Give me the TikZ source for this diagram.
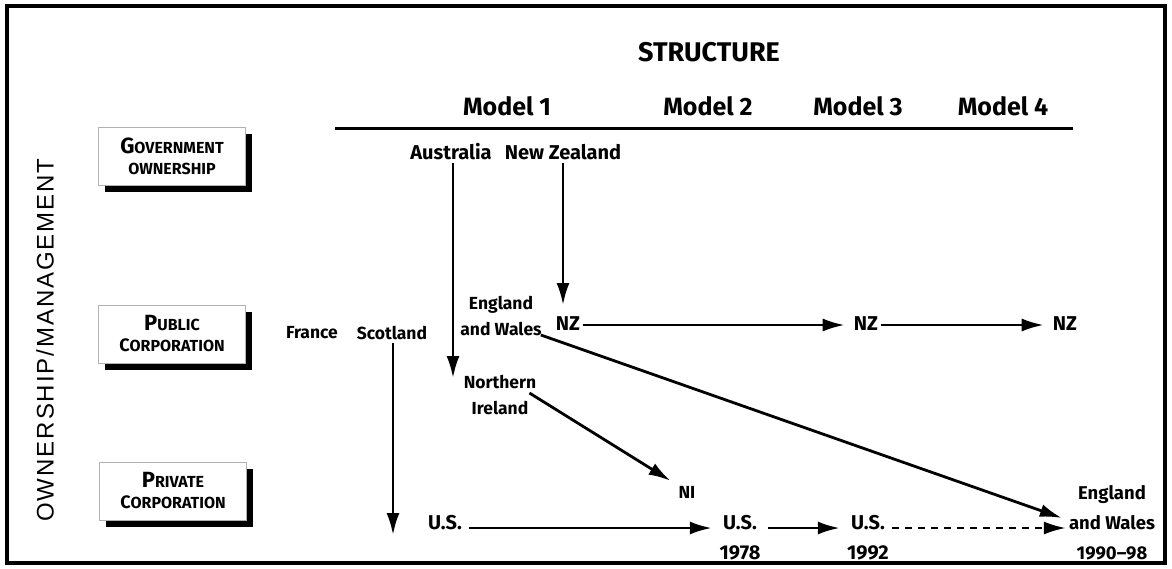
\documentclass[tikz,border=0pt]{standalone}
\usepackage{fontspec}
\setmainfont{Fira Sans}
\newfontfamily\axisfont[LetterSpace=8]{Liberation Sans}
\usetikzlibrary{arrows.meta,shadows}
\newcommand{\fsz}[1]{\fontsize{#1}{#1}\selectfont}
\newcommand{\bsz}[1]{\fontsize{#1}{21}\selectfont}
\begin{document}
\begin{tikzpicture}[x=1pt,y=-1pt,
  lbl/.style={inner sep=3pt, font=\bfseries\fontsize{17.5}{26}\selectfont, align=center},
  mid/.style={inner sep=3pt, font=\bfseries\fontsize{20}{30}\selectfont, align=center},
  hdr/.style={inner sep=0pt, font=\bfseries\fsz{25}},
  catbox/.style={draw=gray!60, line width=0.6pt, fill=white, minimum width=147pt, minimum height=58pt,
     align=center, inner sep=0pt, font=\bfseries\bsz{16},
     drop shadow={shadow xshift=6pt, shadow yshift=-7pt, fill=black, opacity=1}},
  arr/.style={line width=2.8pt, -{Latex[length=22pt,width=13pt]}},
  darr/.style={line width=2.4pt, dash pattern=on 7pt off 6pt, -{Latex[length=22pt,width=13pt]}}]
\useasboundingbox (0,0) rectangle (1172,568);
\fill[white] (0,0) rectangle (1172,568);
\draw[line width=4pt] (7,6) rectangle (1165,563);

% headers
\node[hdr, font=\bfseries\fsz{27}] (st) at (709,52) {STRUCTURE};
\node[hdr] (m1) at (507,106) {Model 1};
\node[hdr] (m2) at (708,106) {Model 2};
\node[hdr] (m3) at (858,106) {Model 3};
\node[hdr] (m4) at (1003,106) {Model 4};
\draw[line width=3pt] (335,128) -- (1073,128);

% axis
\node[rotate=90, font=\axisfont\fsz{24}, inner sep=0pt] (ax) at (45,340) {OWNERSHIP/MANAGEMENT};

% category boxes
\node[catbox] (gov) at (172,156) {{\bsz{22}G}OVERNMENT\\OWNERSHIP};
\node[catbox] (pub) at (172,334) {{\bsz{22}P}UBLIC\\{\bsz{18}C}ORPORATION};
\node[catbox] (prv) at (173,491) {{\bsz{22}P}RIVATE\\{\bsz{18}C}ORPORATION};

% country labels
\node[mid] (aus) at (451,152) {Australia};
\node[mid] (nzl) at (563,152) {New Zealand};
\node[lbl] (ew1) at (501,316) {England\\and Wales};
\node[mid] (nz1) at (568,324) {NZ};
\node[mid] (nz2) at (866,324) {NZ};
\node[mid] (nz3) at (1065,324) {NZ};
\node[lbl] (fr) at (312,333) {France};
\node[lbl] (sco) at (392,333) {Scotland};
\node[lbl] (nir) at (500,395) {Northern\\Ireland};
\node[lbl] (ni) at (687,492) {NI};
\node[mid] (us0) at (445,523) {U.S.};
\node[mid] (us1) at (740,523) {U.S.};
\node[mid] (y1) at (740,553) {1978};
\node[mid] (us2) at (868,523) {U.S.};
\node[mid] (y2) at (868,553) {1992};
\node[mid, font=\bfseries\fontsize{18.5}{30}\selectfont, inner sep=0pt] (ew2) at (1112,523) {England\\and Wales\\1990--98};

\coordinate (ausEnd) at (453,378);
\coordinate (nzEnd) at (563,305);
\coordinate (scoEnd) at (393,535);

% connectors
\draw[arr] (aus.south -| ausEnd) -- (ausEnd);
\draw[arr] (nzl.south -| nzEnd) -- (nzEnd);
\draw[arr] (sco.south -| scoEnd) -- (scoEnd);
\draw[arr] ([yshift=-1pt]nz1.east) -- ([xshift=-6pt,yshift=-1pt]nz2.west);
\draw[arr] ([yshift=-1pt]nz2.east) -- ([xshift=-6pt,yshift=-1pt]nz3.west);
\draw[arr] ([xshift=-10pt,yshift=2pt]nir.east) -- ([xshift=-5pt,yshift=2pt]ni.north west);
\draw[arr] ([xshift=-4pt,yshift=4pt]ew1.south east) -- ([xshift=-7pt,yshift=5pt]ew2.west);
\draw[arr] ([xshift=4pt,yshift=-5pt]us0.east) -- ([xshift=-8pt,yshift=-5pt]us1.west);
\draw[arr] ([xshift=8pt,yshift=-5pt]us1.east) -- ([xshift=-8pt,yshift=-5pt]us2.west);
\draw[darr] ([xshift=4pt,yshift=-5pt]us2.east) -- ([xshift=-3pt,yshift=-5pt]ew2.west);
\end{tikzpicture}
\end{document}
